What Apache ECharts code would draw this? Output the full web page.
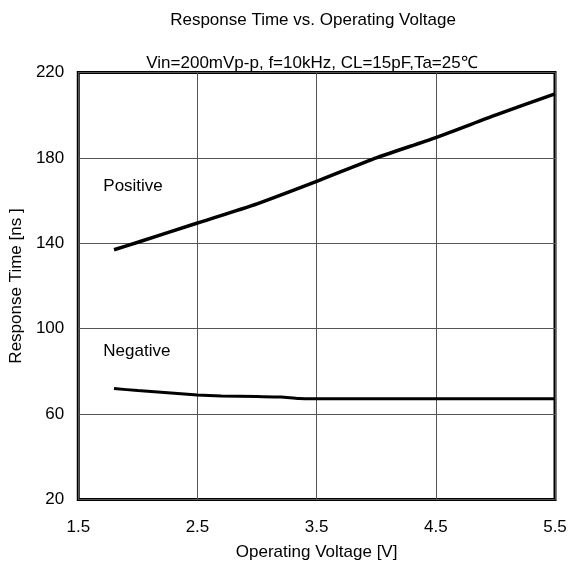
<!DOCTYPE html>
<html><head><meta charset="utf-8">
<script src="https://cdn.jsdelivr.net/npm/echarts@6/dist/echarts.min.js"></script>
<style>html,body{margin:0;padding:0;background:#fff}#c{width:572px;height:570px}</style>
</head><body><div id="c"></div>
<script>
const xTicks = [1.5, 2.5, 3.5, 4.5, 5.5];
const yTicks = [20, 60, 100, 140, 180, 220];
const posX = [1.8, 2.0, 2.5, 3.0, 3.5, 4.0, 4.5, 5.0, 5.5];
const posY = [137, 140.5, 149.5, 158.5, 169, 180, 189.5, 200, 210];
const negX = [1.8, 2.0, 2.5, 2.7, 3.0, 3.2, 3.35, 3.5, 4.5, 5.5];
const negY = [72, 71, 69, 68.5, 68.2, 68, 67.3, 67.2, 67.2, 67.2];
const labels = [{text: 'Positive', x: 1.71, y: 166.8}, {text: 'Negative', x: 1.71, y: 89.6}];
const font = 'Arial, "Liberation Sans", sans-serif';

const chart = echarts.init(document.getElementById('c'));
chart.setOption({
  animation: false,
  backgroundColor: '#fff',
  title: [
    {text: 'Response Time vs. Operating Voltage', left: 308, top: 7, textAlign: 'center',
     textStyle: {fontFamily: font, fontSize: 17, fontWeight: 'normal', color: '#000'}},
    {text: 'Vin=200mVp-p, f=10kHz, CL=15pF,Ta=25℃', left: 307, top: 50, textAlign: 'center',
     textStyle: {fontFamily: font, fontSize: 17, fontWeight: 'normal', color: '#000'}}
  ],
  grid: {left: 76, right: 17, top: 72.5, bottom: 70.5, show: true, borderColor: '#000', borderWidth: 3, backgroundColor: 'transparent'},
  xAxis: {
    type: 'value', min: xTicks[0], max: xTicks[xTicks.length - 1], interval: 1,
    name: 'Operating Voltage [V]', nameLocation: 'middle', nameGap: 44,
    nameTextStyle: {fontFamily: font, fontSize: 17, color: '#000'},
    axisLine: {show: false}, axisTick: {show: false},
    axisLabel: {fontFamily: font, fontSize: 17, color: '#000', margin: 19, formatter: v => v.toFixed(1)},
    splitLine: {show: true, lineStyle: {color: '#555', width: 1}}
  },
  yAxis: {
    type: 'value', min: yTicks[0], max: yTicks[yTicks.length - 1], interval: 40,
    name: 'Response Time [ns ]', nameLocation: 'middle', nameGap: 52,
    nameTextStyle: {fontFamily: font, fontSize: 17, color: '#000'},
    axisLine: {show: false}, axisTick: {show: false},
    axisLabel: {fontFamily: font, fontSize: 17, color: '#000', margin: 14},
    splitLine: {show: true, lineStyle: {color: '#555', width: 1}}
  },
  series: [
    {type: 'line', data: posX.map((x, i) => [x, posY[i]]), smooth: 0.2, showSymbol: false,
     lineStyle: {color: '#000', width: 3.5}},
    {type: 'line', data: negX.map((x, i) => [x, negY[i]]), smooth: 0.2, showSymbol: false,
     lineStyle: {color: '#000', width: 3}}
  ]
});
chart.setOption({
  graphic: labels.map(l => {
    const p = chart.convertToPixel({gridIndex: 0}, [l.x, l.y]);
    return {type: 'text', x: p[0], y: p[1],
      style: {text: l.text, fontFamily: font, fontSize: 17, fill: '#000', textVerticalAlign: 'middle', verticalAlign: 'middle'}};
  })
});
</script></body></html>
